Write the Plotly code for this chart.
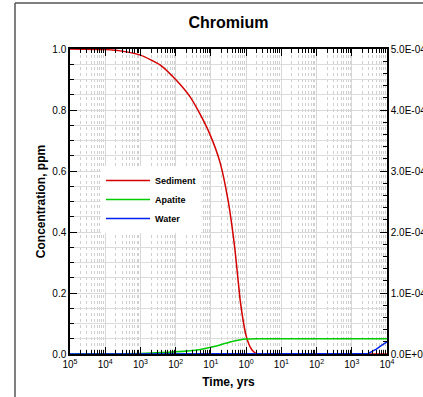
import plotly.graph_objects as go

# ---------------- data ----------------
sed_t = [1e-5, 1e-4, 3e-4, 1e-3, 3.6e-3, 1.03e-2, 2.57e-2, 4.9e-2, 9.4e-2, 0.18, 0.306, 0.484, 0.672, 0.85, 0.99, 1.2, 1.47, 1.8, 2.2, 10, 1e4]
sed_c = [1.0, 0.998, 0.993, 0.980, 0.948, 0.898, 0.843, 0.787, 0.72, 0.63, 0.505, 0.341, 0.18, 0.10, 0.062, 0.032, 0.013, 0.004, 0.0, 0.0, 0.0]

apa_t = [1e-5, 1e-4, 1e-3, 1e-2, 5e-2, 0.1, 0.2, 0.4, 0.7, 1.0, 2.0, 1e4]
apa_c = [0.0, 0.0005, 0.002, 0.007, 0.015, 0.022, 0.031, 0.041, 0.047, 0.049, 0.05, 0.05]

wat_t = [1e-5, 1e3, 2.4e3, 3e3, 4e3, 5e3, 7e3, 1e4]
wat_c = [0.0, 0.0, 0.0, 1e-6, 5e-6, 8e-6, 1.4e-5, 2.0e-5]

x_tickvals = [1e-5, 1e-4, 1e-3, 1e-2, 1e-1, 1e0, 1e1, 1e2, 1e3, 1e4]
x_ticktext = ["10<sup>5</sup>", "10<sup>4</sup>", "10<sup>3</sup>", "10<sup>2</sup>", "10<sup>1</sup>",
              "10<sup>0</sup>", "10<sup>1</sup>", "10<sup>2</sup>", "10<sup>3</sup>", "10<sup>4</sup>"]
y_tickvals = [0.0, 0.2, 0.4, 0.6, 0.8, 1.0]
y_ticktext = ["0.0", "0.2", "0.4", "0.6", "0.8", "1.0"]
y2_tickvals = [0, 1e-4, 2e-4, 3e-4, 4e-4, 5e-4]
y2_ticktext = ["0.0E+00", "1.0E-04", "2.0E-04", "3.0E-04", "4.0E-04", "5.0E-04"]

x_minor = [m * 10 ** e for e in range(-5, 4) for m in range(2, 10)]

FONT = "Liberation Sans, Arial, sans-serif"

fig = go.Figure()
fig.add_trace(go.Scatter(x=sed_t, y=sed_c, mode="lines", name="Sediment",
                         line=dict(color="#d40000", width=1.5, shape="spline", smoothing=0.5)))
fig.add_trace(go.Scatter(x=apa_t, y=apa_c, mode="lines", name="Apatite",
                         line=dict(color="#00cc00", width=1.5, shape="spline", smoothing=0.6)))
fig.add_trace(go.Scatter(x=wat_t, y=wat_c, mode="lines", name="Water", yaxis="y2",
                         line=dict(color="#0022ee", width=1.5)))

fig.update_layout(
    width=423, height=397, autosize=False,
    margin=dict(l=70, r=36, t=49, b=43),
    paper_bgcolor="white", plot_bgcolor="white",
    font=dict(family=FONT, size=10, color="black"),
    title=dict(text="Chromium", x=0.5, xref="paper", y=1 - 22 / 397, yanchor="middle",
               font=dict(family=FONT, size=16, color="black", weight="bold")),
    showlegend=True,
    legend=dict(x=(101 - 70) / 317, y=(354 - 166) / 305, xanchor="left", yanchor="top",
                bgcolor="white", borderwidth=0,
                font=dict(family=FONT, size=9, weight="bold"),
                tracegroupgap=0, itemwidth=44),
    xaxis=dict(type="log", range=[-5, 4], tickvals=x_tickvals, ticktext=x_ticktext,
               ticks="inside", ticklen=7, tickcolor="black", tickwidth=1,
               showline=True, linecolor="black", linewidth=1.5, mirror="ticks",
               showgrid=True, gridcolor="#d8d8d8", gridwidth=1,
               minor=dict(tickvals=x_minor, ticks="inside", ticklen=4, tickcolor="black",
                          showgrid=True, gridcolor="#cfcfcf", griddash="dot", gridwidth=1),
               tickfont=dict(size=10), zeroline=False, automargin=False,
               title=dict(text="Time, yrs", standoff=9,
                          font=dict(size=12, weight="bold"))),
    yaxis=dict(range=[0, 1], tickvals=y_tickvals, ticktext=y_ticktext,
               ticks="inside", ticklen=7, tickcolor="black",
               showline=True, linecolor="black", linewidth=1.5, mirror=True,
               showgrid=True, gridcolor="#d8d8d8", gridwidth=1,
               minor=dict(dtick=0.05, ticks="inside", ticklen=4, tickcolor="black",
                          showgrid=True, gridcolor="#dcdcdc"),
               tickfont=dict(size=10), zeroline=False, automargin=False,
               title=dict(text="Concentration, ppm", standoff=4,
                          font=dict(size=12, weight="bold"))),
    yaxis2=dict(range=[0, 5e-4], overlaying="y", side="right",
                tickvals=y2_tickvals, ticktext=y2_ticktext,
                ticks="inside", ticklen=7, tickcolor="black",
                showline=True, linecolor="black", linewidth=1.5,
                minor=dict(dtick=2e-5, ticks="inside", ticklen=4, tickcolor="black"),
                showgrid=False, zeroline=False, automargin=False,
                tickfont=dict(size=10)),
    shapes=[
        dict(type="line", xref="paper", yref="paper", x0=-55 / 317, x1=-55 / 317,
             y0=-0.2, y1=(354 - 3) / 305, line=dict(color="#555555", width=1.5),
             layer="above"),
        dict(type="line", xref="paper", yref="paper", x0=-55 / 317, x1=1.2,
             y0=(354 - 3) / 305, y1=(354 - 3) / 305, line=dict(color="#555555", width=1.5),
             layer="above"),
    ],
)

fig.write_html("out.html", config={"displayModeBar": False, "responsive": False},
               post_script="document.body.style.margin='0';")
